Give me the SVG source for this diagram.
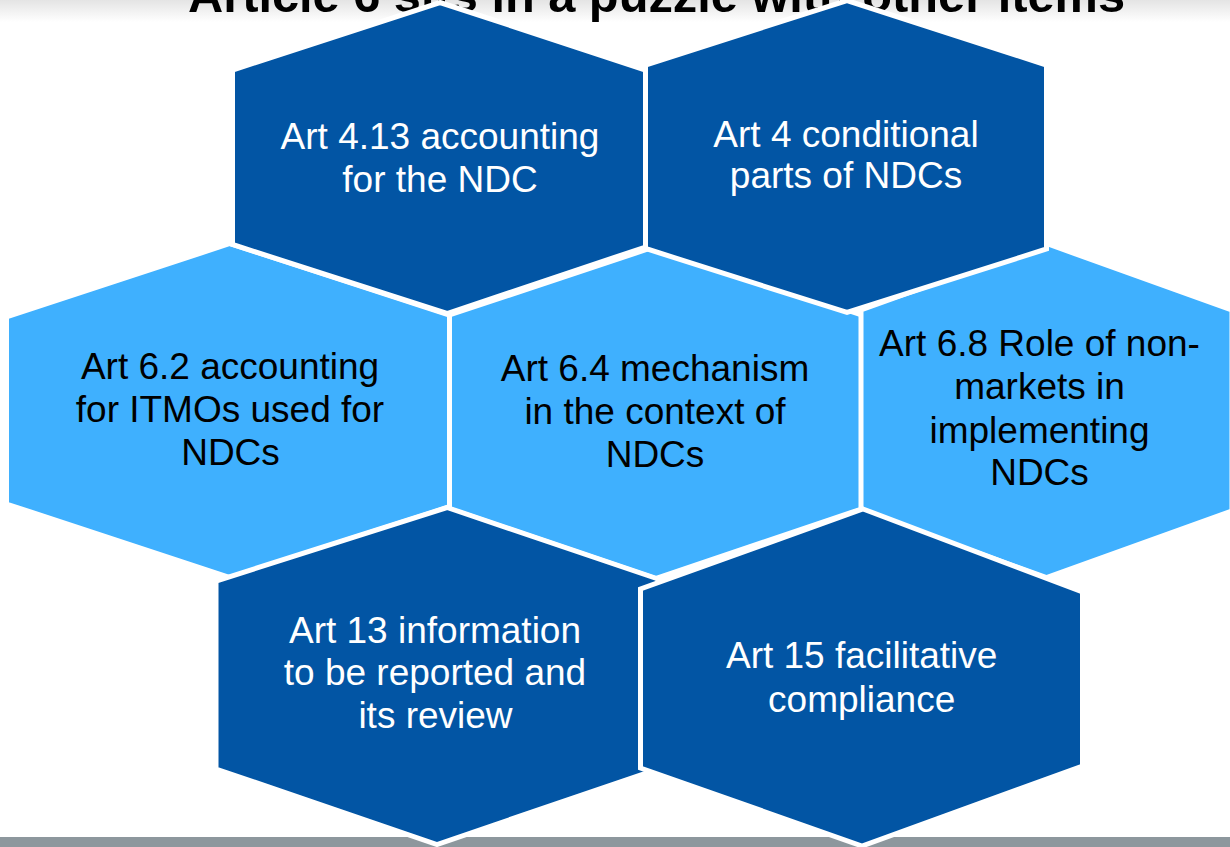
<svg xmlns="http://www.w3.org/2000/svg" width="1230" height="847" viewBox="0 0 1230 847">
  <defs>
    <linearGradient id="topShade" x1="0" y1="0" x2="0" y2="1">
      <stop offset="0" stop-color="#e4e4e4"/>
      <stop offset="1" stop-color="#ffffff"/>
    </linearGradient>
    <style>
      .hex { stroke: #ffffff; stroke-width: 5; stroke-linejoin: miter; }
      .dark { fill: #0255A4; }
      .light { fill: #3FB0FE; }
      .lbl { font-family: "Liberation Sans", Arial, sans-serif; font-size: 37px; text-anchor: middle; }
      .wt { fill: #ffffff; }
      .bk { fill: #000000; }
      .title { font-family: "Liberation Sans", Arial, sans-serif; font-size: 48px; font-weight: bold; fill: #000000; text-anchor: middle; }
    </style>
  </defs>

  <rect x="0" y="0" width="1230" height="847" fill="#ffffff"/>
  <rect x="0" y="0" width="1230" height="22" fill="url(#topShade)"/>
  <text class="title" x="656.5" y="12" textLength="937" lengthAdjust="spacingAndGlyphs">Article 6 sits in a puzzle with other items</text>

  <rect id="footer-bar" x="0" y="837" width="1230" height="10" fill="#8D979D"/>

  <g id="connectors"/>

  <g id="node-art62">
    <polygon class="hex light" points="230,243.5 449.5,315 449.5,507 230,577.5 6.5,504 6.5,317"/>
    <text class="lbl bk" x="230" y="378.5">Art 6.2 accounting</text>
    <text class="lbl bk" x="230" y="421.8">for ITMOs used for</text>
    <text class="lbl bk" x="230.5" y="465">NDCs</text>
  </g>

  <g id="node-art64">
    <polygon class="hex light" points="655.5,246.5 861.5,315 861.5,509 655.5,578.5 449.5,509 449.5,315"/>
    <text class="lbl bk" x="655" y="381">Art 6.4 mechanism</text>
    <text class="lbl bk" x="655" y="424">in the context of</text>
    <text class="lbl bk" x="655" y="467">NDCs</text>
  </g>

  <g id="node-art68">
    <polygon class="hex light" points="1046.5,243.5 1232,310 1232,511 1046.5,577.5 861,511 861,310"/>
    <text class="lbl bk" x="1039.5" y="356">Art 6.8 Role of non-</text>
    <text class="lbl bk" x="1039.5" y="399.3">markets in</text>
    <text class="lbl bk" x="1039.5" y="442.7">implementing</text>
    <text class="lbl bk" x="1039.5" y="485">NDCs</text>
  </g>

  <g id="node-art413">
    <polygon class="hex dark" points="440,2.5 645.5,70 645.5,247 447,313.5 232.5,244.5 232.5,70"/>
    <text class="lbl wt" x="440" y="149">Art 4.13 accounting</text>
    <text class="lbl wt" x="440" y="191.7">for the NDC</text>
  </g>

  <g id="node-art4">
    <polygon class="hex dark" points="847,0.5 1046.5,65 1046.5,249 847,312.5 645.5,248.5 645.5,65"/>
    <text class="lbl wt" x="846" y="146.7">Art 4 conditional</text>
    <text class="lbl wt" x="846" y="188.3">parts of NDCs</text>
  </g>

  <g id="node-art13">
    <polygon class="hex dark" points="447,507.5 658,579 658,769 437,844.5 216,769 216,581"/>
    <text class="lbl wt" x="435" y="642.7">Art 13 information</text>
    <text class="lbl wt" x="435" y="685">to be reported and</text>
    <text class="lbl wt" x="435.5" y="728.3">its review</text>
  </g>

  <g id="node-art15">
    <polygon class="hex dark" points="863,509 1082.5,592 1082.5,766 862,846 640.5,768 640.5,589"/>
    <text class="lbl wt" x="861.7" y="668.3">Art 15 facilitative</text>
    <text class="lbl wt" x="861.7" y="711.7">compliance</text>
  </g>
</svg>
